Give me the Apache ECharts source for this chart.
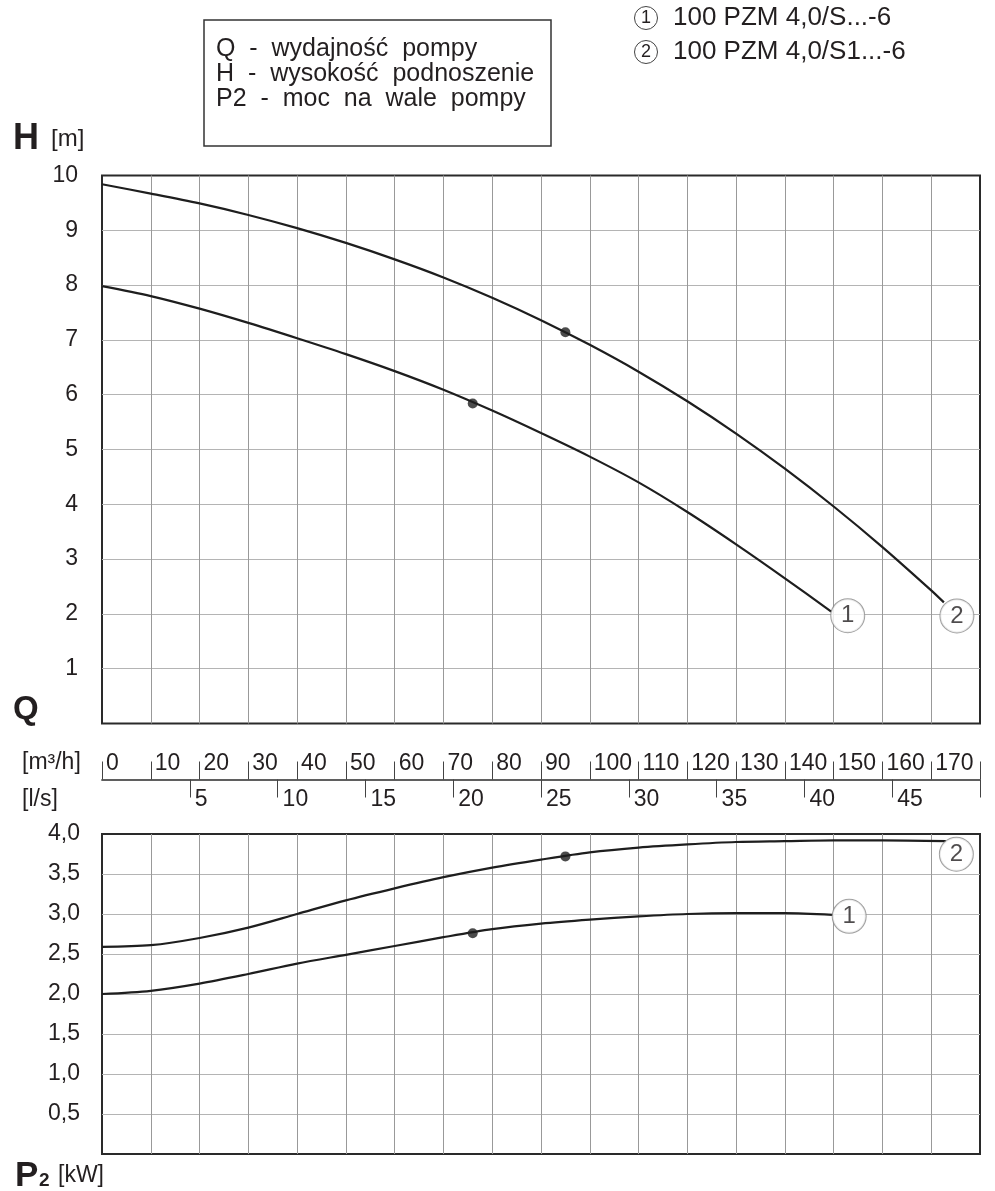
<!DOCTYPE html>
<html>
<head>
<meta charset="utf-8">
<script src="https://cdn.jsdelivr.net/npm/echarts@6/dist/echarts.min.js"></script>
<style>html,body{margin:0;padding:0;background:#fff}#c{width:995px;height:1191px}</style>
</head>
<body>
<div id="c"></div>
<script>
// ---- data ----
const qH1 = [0,10,20,30,40,50,60,70,80,90,100,110,120,130,140,149.5];
const h1  = [7.98,7.80,7.57,7.31,7.03,6.74,6.43,6.09,5.71,5.30,4.87,4.40,3.86,3.27,2.65,2.04];
const qH2 = [0,10,20,30,40,50,60,70,80,90,100,110,120,130,140,150,160,170,172.6];
const h2  = [9.84,9.67,9.49,9.28,9.04,8.77,8.47,8.14,7.77,7.36,6.91,6.42,5.88,5.29,4.65,3.96,3.22,2.43,2.21];
const qP1 = [0,10,20,30,40,50,60,70,80,90,100,110,120,130,140,149.8];
const p1  = [2.00,2.04,2.13,2.25,2.38,2.49,2.60,2.71,2.81,2.88,2.93,2.97,3.00,3.01,3.01,2.99];
const qP2 = [0,10,20,30,40,50,60,70,80,90,100,110,120,130,140,150,160,173];
const p2  = [2.59,2.61,2.70,2.83,3.00,3.17,3.32,3.46,3.58,3.68,3.77,3.83,3.87,3.90,3.91,3.92,3.92,3.91];
const dutyQ = [76, 95];
const dutyH = [5.84, 7.14];
const dutyP = [2.76, 3.72];
const curveNames = ['1', '2'];
const qTickLabels  = [0,10,20,30,40,50,60,70,80,90,100,110,120,130,140,150,160,170];
const qTicks       = [0,10,20,30,40,50,60,70,80,90,100,110,120,130,140,150,160,170,180];
const lsTicks      = [5,10,15,20,25,30,35,40,45,50];
const lsTickLabels = [5,10,15,20,25,30,35,40,45];
const hTickLabels  = [1,2,3,4,5,6,7,8,9,10];
const pTickLabels  = [0.5,1.0,1.5,2.0,2.5,3.0,3.5,4.0];
const legendLines  = ['Q  -  wydajność  pompy', 'H  -  wysokość  podnoszenie', 'P2  -  moc  na  wale  pompy'];
const modelNames   = ['100 PZM 4,0/S...-6', '100 PZM 4,0/S1...-6'];

// ---- styling ----
const REG = "'Liberation Sans',Arial,sans-serif";
const TXT = '#231f20';
const LINE = '#1e1e1e';
const zip = (xs, ys) => xs.map((x, i) => [x, ys[i]]);

const chart = echarts.init(document.getElementById('c'), null, {renderer: 'canvas'});

function mainX(gi) {
  return {
    type: 'value', gridIndex: gi, min: 0, max: 180, interval: 10,
    axisLine: {show: false}, axisTick: {show: false}, axisLabel: {show: false},
    splitLine: {show: true, showMinLine: false, showMaxLine: false, lineStyle: {color: '#999', width: 1}}
  };
}
function mainY(gi, max, interval, labels, fmt, margin) {
  return {
    type: 'value', gridIndex: gi, min: 0, max: max, interval: interval,
    axisLine: {show: false}, axisTick: {show: false},
    axisLabel: {show: true, customValues: labels, formatter: fmt, margin: margin,
      fontFamily: REG, fontSize: 23, color: TXT},
    splitLine: {show: true, showMinLine: false, showMaxLine: false, lineStyle: {color: '#b4b4b4', width: 1}}
  };
}
const circleRich = {c: {width: 33, height: 33, lineHeight: 33, align: 'center',
  backgroundColor: '#fff', borderColor: '#8a8a8a', borderWidth: 1, borderRadius: 17,
  fontFamily: REG, fontSize: 24, color: TXT}};

function curve(name, xi, data) {
  return {type: 'line', name: name, xAxisIndex: xi, yAxisIndex: xi, data: data,
    smooth: 0.3, symbol: 'none', lineStyle: {color: LINE, width: 2.2}, z: 3, silent: true};
}

const option = {
  animation: false,
  backgroundColor: '#fff',
  grid: [
    {left: 102, top: 175.5, width: 878, height: 548, show: true, borderColor: '#2a2a2a', borderWidth: 2, backgroundColor: 'transparent', outerBoundsMode: 'none'},
    {left: 102, top: 834, width: 878, height: 320, show: true, borderColor: '#2a2a2a', borderWidth: 2, backgroundColor: 'transparent', outerBoundsMode: 'none'},
    {left: 102, top: 778.5, width: 878, height: 1, show: false, outerBoundsMode: 'none'}
  ],
  xAxis: [
    mainX(0),
    mainX(1),
    { // m3/h scale
      type: 'value', gridIndex: 2, position: 'top', min: 0, max: 180, interval: 10,
      axisLine: {show: true, lineStyle: {color: '#555', width: 1.5}},
      axisTick: {show: true, customValues: qTicks, length: 18, inside: false, lineStyle: {color: '#444', width: 1}},
      axisLabel: {show: true, customValues: qTickLabels, align: 'left', padding: [0, 0, 0, 4], margin: 3,
        fontFamily: REG, fontSize: 23, color: TXT},
      splitLine: {show: false}
    },
    { // l/s scale
      type: 'value', gridIndex: 2, position: 'bottom', min: 0, max: 50, interval: 5,
      axisLine: {show: true, lineStyle: {color: '#555', width: 1.5}},
      axisTick: {show: true, customValues: lsTicks, length: 18, inside: false, lineStyle: {color: '#444', width: 1}},
      axisLabel: {show: true, customValues: lsTickLabels, align: 'left', padding: [0, 0, 0, 5], margin: 9,
        fontFamily: REG, fontSize: 23, color: TXT},
      splitLine: {show: false}
    }
  ],
  yAxis: [
    mainY(0, 10, 1, hTickLabels, v => String(v), 24),
    mainY(1, 4, 0.5, pTickLabels, v => v.toFixed(1).replace('.', ','), 22),
    {type: 'value', gridIndex: 2, min: 0, max: 1, show: false}
  ],
  series: [
    curve('H1', 0, zip(qH1, h1)),
    curve('H2', 0, zip(qH2, h2)),
    curve('P1', 1, zip(qP1, p1)),
    curve('P2', 1, zip(qP2, p2)),
    {type: 'scatter', xAxisIndex: 0, yAxisIndex: 0, data: zip(dutyQ, dutyH), symbolSize: 10,
      itemStyle: {color: LINE}, z: 4, silent: true},
    {type: 'scatter', xAxisIndex: 1, yAxisIndex: 1, data: zip(dutyQ, dutyP), symbolSize: 10,
      itemStyle: {color: LINE}, z: 4, silent: true},
    {type: 'scatter', xAxisIndex: 0, yAxisIndex: 0, symbolSize: 1, itemStyle: {color: 'rgba(0,0,0,0)'}, z: 6, silent: true,
      label: {show: true, position: 'inside', rich: circleRich},
      data: [
        {value: [qH1[qH1.length - 1], h1[h1.length - 1]], label: {offset: [16.5, 4], formatter: '{c|' + curveNames[0] + '}'}},
        {value: [qH2[qH2.length - 1], h2[h2.length - 1]], label: {offset: [13, 13.5], formatter: '{c|' + curveNames[1] + '}'}}
      ]},
    {type: 'scatter', xAxisIndex: 1, yAxisIndex: 1, symbolSize: 1, itemStyle: {color: 'rgba(0,0,0,0)'}, z: 6, silent: true,
      label: {show: true, position: 'inside', rich: circleRich},
      data: [
        {value: [qP1[qP1.length - 1], p1[p1.length - 1]], label: {offset: [16.5, 1.5], formatter: '{c|' + curveNames[0] + '}'}},
        {value: [qP2[qP2.length - 1], p2[p2.length - 1]], label: {offset: [10.5, 13], formatter: '{c|' + curveNames[1] + '}'}}
      ]}
  ],
  graphic: [
    {type: 'rect', shape: {x: 204, y: 20, width: 347, height: 126}, style: {fill: 'none', stroke: '#333', lineWidth: 1.5}},
    {type: 'text', x: 216, y: 49, style: {text: legendLines[0], fontFamily: REG, fontSize: 25, fill: TXT, align: 'left', verticalAlign: 'middle'}},
    {type: 'text', x: 216, y: 74, style: {text: legendLines[1], fontFamily: REG, fontSize: 25, fill: TXT, align: 'left', verticalAlign: 'middle'}},
    {type: 'text', x: 216, y: 99, style: {text: legendLines[2], fontFamily: REG, fontSize: 25, fill: TXT, align: 'left', verticalAlign: 'middle'}},
    {type: 'circle', shape: {cx: 646, cy: 18, r: 11.5}, style: {fill: 'none', stroke: '#444', lineWidth: 1}},
    {type: 'text', x: 646, y: 18, style: {text: curveNames[0], fontFamily: REG, fontSize: 18, fill: TXT, align: 'center', verticalAlign: 'middle'}},
    {type: 'text', x: 673, y: 18, style: {text: modelNames[0], fontFamily: REG, fontSize: 26, fill: TXT, align: 'left', verticalAlign: 'middle'}},
    {type: 'circle', shape: {cx: 646, cy: 52, r: 11.5}, style: {fill: 'none', stroke: '#444', lineWidth: 1}},
    {type: 'text', x: 646, y: 52, style: {text: curveNames[1], fontFamily: REG, fontSize: 18, fill: TXT, align: 'center', verticalAlign: 'middle'}},
    {type: 'text', x: 673, y: 52, style: {text: modelNames[1], fontFamily: REG, fontSize: 26, fill: TXT, align: 'left', verticalAlign: 'middle'}},
    {type: 'text', x: 13, y: 139, style: {text: 'H', fontFamily: REG, fontWeight: 'bold', fontSize: 36, fill: TXT, align: 'left', verticalAlign: 'middle'}},
    {type: 'text', x: 51, y: 139, style: {text: '[m]', fontFamily: REG, fontSize: 24, fill: TXT, align: 'left', verticalAlign: 'middle'}},
    {type: 'text', x: 13, y: 710, style: {text: 'Q', fontFamily: REG, fontWeight: 'bold', fontSize: 33, fill: TXT, align: 'left', verticalAlign: 'middle'}},
    {type: 'text', x: 22, y: 763, style: {text: '[m³/h]', fontFamily: REG, fontSize: 23, fill: TXT, align: 'left', verticalAlign: 'middle'}},
    {type: 'text', x: 22, y: 800, style: {text: '[l/s]', fontFamily: REG, fontSize: 23, fill: TXT, align: 'left', verticalAlign: 'middle'}},
    {type: 'text', x: 15, y: 1176, style: {text: 'P', fontFamily: REG, fontWeight: 'bold', fontSize: 35, fill: TXT, align: 'left', verticalAlign: 'middle'}},
    {type: 'text', x: 39, y: 1181, style: {text: '2', fontFamily: REG, fontWeight: 'bold', fontSize: 19, fill: TXT, align: 'left', verticalAlign: 'middle'}},
    {type: 'text', x: 58, y: 1176, style: {text: '[kW]', fontFamily: REG, fontSize: 23, fill: TXT, align: 'left', verticalAlign: 'middle'}}
  ]
};
chart.setOption(option);
</script>
</body>
</html>
